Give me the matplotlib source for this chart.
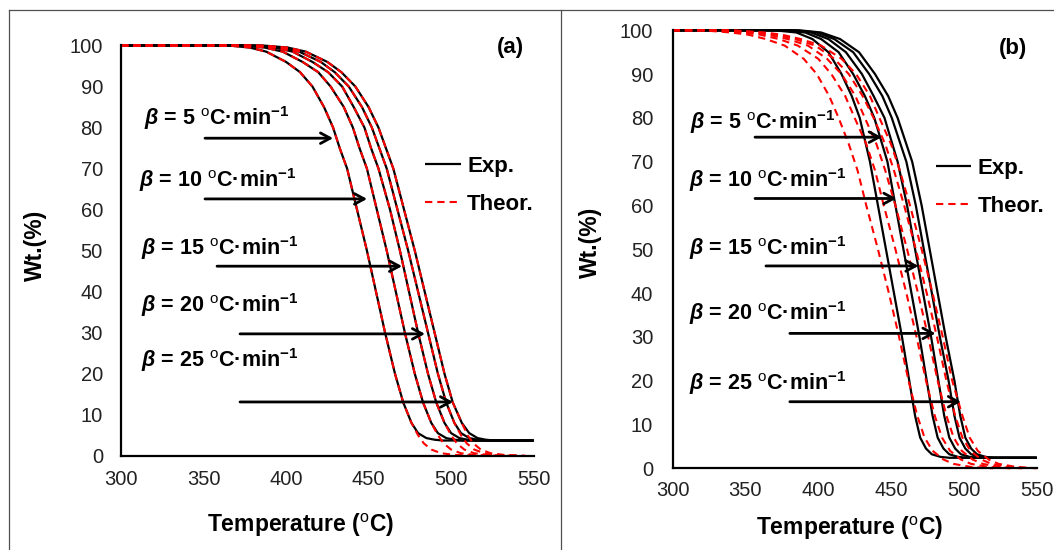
import matplotlib
matplotlib.use('Agg')
import matplotlib.pyplot as plt
from matplotlib.lines import Line2D

plt.rcParams['font.family'] = ['Liberation Sans', 'DejaVu Sans']
plt.rcParams['mathtext.fontset'] = 'custom'
plt.rcParams['mathtext.rm'] = 'Liberation Sans'
plt.rcParams['mathtext.bf'] = 'Liberation Sans:bold'
plt.rcParams['mathtext.it'] = 'Liberation Sans:italic'
plt.rcParams['mathtext.bfit'] = 'Liberation Sans:bold:italic'

# ---------------- data ----------------
rates = [5, 10, 15, 20, 25]

# Panel (a): experimental weight levels and temperatures
w_left_exp = [100, 100, 99.5, 98.5, 96, 93.5, 90, 85, 80, 75, 70, 60, 50, 40, 30, 20, 13, 8, 5.5, 4.3, 3.9, 3.7, 3.7]
t_left_exp_5 = [300, 365, 378, 388, 400, 408.5, 416, 423, 428.5, 432.5, 437, 443, 449, 454.5, 460, 466, 471, 476, 480, 485, 490, 495, 550]
t_left_exp_10 = [300, 372, 387, 398, 410, 419.5, 427, 435, 440.5, 444.5, 449, 455, 461, 466.5, 472, 478, 483, 488, 492, 497, 502, 507, 550]
t_left_exp_15 = [300, 378, 393, 404, 416, 425.5, 434, 441, 447.5, 451.5, 456, 463, 469, 474.5, 480, 486, 491, 496, 500, 505, 510, 515, 550]
t_left_exp_20 = [300, 382, 397, 408, 421, 429.5, 438, 446, 452, 456.5, 461, 467.5, 474, 480, 486, 492, 497, 502, 506, 511, 516, 521, 550]
t_left_exp_25 = [300, 386, 401, 412, 425, 433.5, 442, 450, 456, 460.5, 465, 471.5, 478, 484, 490, 496, 501, 506.5, 511, 516, 521, 526, 550]

# Panel (a): theoretical
w_left_theo = [100, 100, 99.5, 98.5, 96, 93.5, 90, 85, 80, 75, 70, 60, 50, 40, 30, 20, 13, 8, 5, 3, 1.5, 0.6, 0.2, 0]
t_left_theo_5 = [300, 365, 378, 388, 400, 408.5, 416, 423, 428.5, 432.5, 437, 443, 449, 454.5, 460, 466, 471, 476, 480, 483.5, 488, 494, 502, 515]
t_left_theo_10 = [300, 372, 387, 398, 410, 419.5, 427, 435, 440.5, 444.5, 449, 455, 461, 466.5, 472, 478, 483, 488, 492, 495.5, 500, 506, 514, 527]
t_left_theo_15 = [300, 378, 393, 404, 416, 425.5, 434, 441, 447.5, 451.5, 456, 463, 469, 474.5, 480, 486, 491, 496, 500, 503.5, 508, 514, 522, 535]
t_left_theo_20 = [300, 382, 397, 408, 421, 429.5, 438, 446, 452, 456.5, 461, 467.5, 474, 480, 486, 492, 497, 502, 506, 509.5, 514, 520, 528, 541]
t_left_theo_25 = [300, 386, 401, 412, 425, 433.5, 442, 450, 456, 460.5, 465, 471.5, 478, 484, 490, 496, 501, 506.5, 510, 513.5, 518, 524, 532, 545]

# Panel (b): experimental
w_right_exp = [100, 100, 99.5, 98, 95, 90, 85, 80, 70, 60, 50, 40, 30, 20, 12, 7, 4.5, 3.2, 2.6, 2.4, 2.4]
t_right_exp_5 = [300, 370, 385, 396, 407, 416, 423, 428.5, 435.5, 441, 446.5, 452, 457.5, 462.5, 466.5, 470, 474, 478, 484, 490, 550]
t_right_exp_10 = [300, 376, 391, 402, 414, 424, 432, 438.5, 447.5, 453, 458.5, 464, 469.5, 474.5, 478.5, 482, 486, 490, 496, 502, 550]
t_right_exp_15 = [300, 380, 395, 407, 419, 430, 438, 445.5, 454.5, 461, 466.5, 472, 477.5, 482.5, 486.5, 490, 494, 498, 504, 510, 550]
t_right_exp_20 = [300, 384, 399, 411, 424, 435, 444, 450.5, 460.5, 467, 472.5, 478, 483.5, 489.5, 493.5, 497, 501, 505, 511, 517, 550]
t_right_exp_25 = [300, 387, 402, 415, 428, 439, 448, 454.5, 464.5, 471, 476.5, 482, 487.5, 493.5, 497.5, 501, 505, 509, 515, 521, 550]

# Panel (b): theoretical
w_right_theo = [100, 100, 99.5, 99, 98, 96.5, 93.5, 90, 85, 80, 74, 68, 60, 50, 40, 30, 20, 12, 7, 4, 2, 1, 0.3, 0]
t_right_theo_5 = [300, 320, 340, 352, 364, 377, 390, 399, 407.5, 414, 421, 427, 433, 441, 448.5, 455.5, 462, 468, 473, 478.5, 486, 493, 505, 520]
t_right_theo_10 = [300, 328, 348, 360, 373, 386, 400, 409, 418.5, 425, 433, 439, 445, 453, 460.5, 467.5, 474, 480, 485, 490.5, 498, 505, 517, 532]
t_right_theo_15 = [300, 334, 354, 366, 379, 393, 406, 416, 425.5, 432, 440, 446, 453, 461, 468.5, 475.5, 482, 488, 493, 498.5, 506, 513, 525, 540]
t_right_theo_20 = [300, 338, 359, 371, 384, 398, 411, 421, 430.5, 438, 446, 452, 459, 467, 474.5, 481.5, 488, 494, 499, 504.5, 512, 519, 531, 546]
t_right_theo_25 = [300, 342, 363, 375, 388, 402, 416, 426, 435.5, 442, 450, 456, 463, 471, 478.5, 485.5, 492, 499, 504, 509.5, 517, 524, 536, 550]

x_ticks = [300, 350, 400, 450, 500, 550]
y_ticks = [0, 10, 20, 30, 40, 50, 60, 70, 80, 90, 100]

# ---------------- layout ----------------
FW, FH = 1054, 550
def fx(p):
    return p / FW
def fy(p):
    return 1 - p / FH

fig = plt.figure(figsize=(FW / 100, FH / 100), dpi=100)
ax1 = fig.add_axes([fx(121), fy(455.7), (533.6 - 121) / FW, (455.7 - 45.5) / FH])
ax2 = fig.add_axes([fx(672.6), fy(468.3), (1036.7 - 672.6) / FW, (468.3 - 30.3) / FH])

EXP_KW = dict(color='black', lw=1.6, solid_capstyle='butt', clip_on=False)
THEO_KW = dict(color='#ff0000', lw=1.5, linestyle=(0, (3.5, 2.4)), clip_on=False)

left_exp = [t_left_exp_5, t_left_exp_10, t_left_exp_15, t_left_exp_20, t_left_exp_25]
left_theo = [t_left_theo_5, t_left_theo_10, t_left_theo_15, t_left_theo_20, t_left_theo_25]
right_exp = [t_right_exp_5, t_right_exp_10, t_right_exp_15, t_right_exp_20, t_right_exp_25]
right_theo = [t_right_theo_5, t_right_theo_10, t_right_theo_15, t_right_theo_20, t_right_theo_25]

for t in left_exp:
    ax1.plot(t, w_left_exp, **EXP_KW)
for t in left_theo:
    ax1.plot(t, w_left_theo, **THEO_KW)
for t in right_exp:
    ax2.plot(t, w_right_exp, **EXP_KW)
for t in right_theo:
    ax2.plot(t, w_right_theo, **THEO_KW)

for ax, xpad, ypad in ((ax1, 10, 13), (ax2, 9, 14)):
    ax.set_xlim(300, 550)
    ax.set_ylim(0, 100)
    ax.set_xticks(x_ticks)
    ax.set_yticks(y_ticks)
    ax.tick_params(axis='both', length=0, labelsize=14.5, colors='#222222')
    ax.tick_params(axis='x', pad=xpad)
    ax.tick_params(axis='y', pad=ypad)
    for s in ('top', 'right'):
        ax.spines[s].set_visible(False)
    for s in ('left', 'bottom'):
        ax.spines[s].set_linewidth(1.6)
        ax.spines[s].set_color('black')

# legends
handles = [Line2D([], [], **{k: v for k, v in EXP_KW.items() if k != 'clip_on'}),
           Line2D([], [], **{k: v for k, v in THEO_KW.items() if k != 'clip_on'})]
labels = ['Exp.', 'Theor.']
for ax, lx, ly in ((ax1, 425, 185.5), (ax2, 935.5, 187.5)):
    ax.legend(handles, labels, loc='center left', bbox_to_anchor=(fx(lx), fy(ly)),
              bbox_transform=fig.transFigure, frameon=False, borderpad=0,
              borderaxespad=0, handlelength=1.6, handletextpad=0.3, labelspacing=0.75,
              prop=dict(family='Liberation Sans', weight='bold', size=16))

# beta annotations and arrows
def beta_label(r):
    return r'$\mathbfit{\beta}$ = ' + str(r) + r' ${}^{\mathrm{o}}$C·min$^{\mathbf{-1}}$'

left_text_x = [313.9, 310.8, 312.1, 312.1, 312.1]
left_text_y = [82.2, 67.2, 50.6, 36.7, 23.3]
left_arrow_x0 = [350.9, 350.9, 358.2, 372.1, 372.1]
left_arrow_x1 = [428.5, 449.1, 470.3, 484.2, 501.2]
left_arrow_y = [77.4, 62.6, 46.2, 29.7, 13.1]

right_text_x = [312.2, 311.0, 311.0, 311.0, 311.0]
right_text_y = [79.1, 65.8, 50.2, 35.4, 19.4]
right_arrow_x0 = [356.6, 356.6, 364.1, 380.5, 380.5]
right_arrow_x1 = [443.6, 453.7, 468.8, 480.5, 498.0]
right_arrow_y = [75.6, 61.6, 46.2, 30.8, 15.2]

ARROW = dict(arrowstyle='->,head_length=0.7,head_width=0.38', lw=2.0, color='black',
             shrinkA=0, shrinkB=0)
for ax, tx, ty, ax0, ax1_, ay in ((ax1, left_text_x, left_text_y, left_arrow_x0, left_arrow_x1, left_arrow_y),
                                  (ax2, right_text_x, right_text_y, right_arrow_x0, right_arrow_x1, right_arrow_y)):
    for i, r in enumerate(rates):
        ax.text(tx[i], ty[i], beta_label(r), fontsize=15.5, fontweight='bold',
                ha='left', va='center')
        ax.annotate('', xy=(ax1_[i], ay[i]), xytext=(ax0[i], ay[i]), arrowprops=ARROW)

# panel letters
ax1.text(536, 99.4, '(a)', fontsize=16, fontweight='bold', ha='center', va='center')
ax2.text(533.7, 95.9, '(b)', fontsize=16, fontweight='bold', ha='center', va='center')

# axis titles
xlab = 'Temperature (${}^{\\mathrm{o}}$C)'
fig.text(fx(300.5), fy(525), xlab, fontsize=16.5, fontweight='bold', ha='center', va='center')
fig.text(fx(850), fy(528), xlab, fontsize=16.5, fontweight='bold', ha='center', va='center')
fig.text(fx(35), fy(245), 'Wt.(%)', fontsize=16.5, fontweight='bold', ha='center', va='center', rotation=90)
fig.text(fx(590), fy(242), 'Wt.(%)', fontsize=16.5, fontweight='bold', ha='center', va='center', rotation=90)

# panel frames
FRAME = dict(color='#505050', lw=0.9, transform=fig.transFigure)
fig.add_artist(Line2D([fx(9), 1], [fy(10), fy(10)], **FRAME))
fig.add_artist(Line2D([fx(9), fx(9)], [fy(10), 0], **FRAME))
fig.add_artist(Line2D([fx(561), fx(561)], [fy(10), 0], **FRAME))

fig.savefig('out.png', dpi=100)
